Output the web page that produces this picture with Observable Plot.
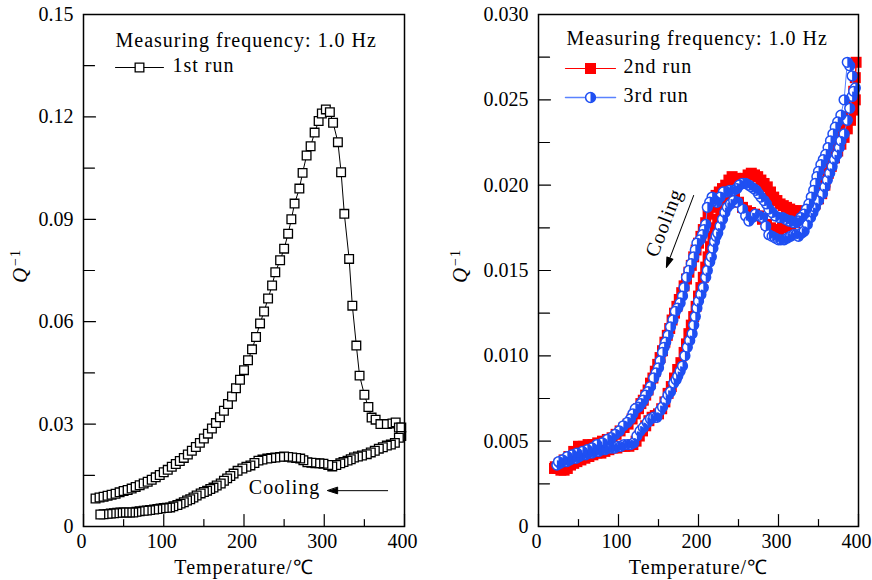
<!DOCTYPE html>
<html><head><meta charset="utf-8">
<script src="https://cdn.jsdelivr.net/npm/d3@7"></script>
<script src="https://cdn.jsdelivr.net/npm/@observablehq/plot@0.6"></script>
<style>
body{margin:0;background:#fff;}
#wrap{position:relative;width:872px;height:580px;overflow:hidden;background:#fff;}
#wrap svg{position:absolute;top:0;}
</style></head><body><div id="wrap"></div>
<script>
// ---------- data ----------
const xMajorTicks = [0, 100, 200, 300, 400];
const xMinorTicks = [50, 150, 250, 350];
const leftYMajorTicks = [0, 0.03, 0.06, 0.09, 0.12, 0.15];
const leftYMinorTicks = [0.015, 0.045, 0.075, 0.105, 0.135];
const rightYMajorTicks = [0, 0.005, 0.010, 0.015, 0.020, 0.025, 0.030];
const rightYMinorTicks = [0.0025, 0.0075, 0.0125, 0.0175, 0.0225, 0.0275];
const legendTitle = ["Measuring frequency: 1.0 Hz"];
const leftSeriesNames = ["1st run"];
const rightSeriesNames = ["2nd run", "3rd run"];
const xLabel = ["Temperature/℃"];
const annotationText = ["Cooling"];

// 1st run: [temperature °C, Q^-1]
const run1Heating = [[15,0.0082],[20,0.0085],[25,0.0087],[30,0.0090],[35,0.0093],[40,0.0096],[45,0.0100],[50,0.0104],[55,0.0107],[60,0.0111],[65,0.0116],[70,0.0121],[75,0.0126],[80,0.0131],[85,0.0137],[90,0.0144],[95,0.0151],[100,0.0159],[105,0.0166],[110,0.0175],[115,0.0183],[120,0.0192],[125,0.0201],[130,0.0211],[135,0.0222],[140,0.0233],[145,0.0245],[150,0.0258],[155,0.0272],[160,0.0287],[165,0.0303],[170,0.0320],[175,0.0339],[180,0.0359],[185,0.0381],[190,0.0405],[195,0.0430],[200,0.0458],[205,0.0487],[210,0.0519],[215,0.0555],[220,0.0595],[225,0.0630],[230,0.0668],[235,0.0706],[239,0.0745],[245,0.0780],[250,0.0814],[255,0.0858],[259,0.0900],[263,0.0946],[269,0.0990],[273,0.1036],[278,0.1087],[283,0.1114],[288,0.1154],[293,0.1188],[297,0.1210],[302,0.1222],[307,0.1214],[311,0.1183],[317,0.1126],[321,0.1038],[325,0.0916],[331,0.0784],[335,0.0647],[340,0.0530],[344,0.0442],[350,0.0386],[355,0.0350],[359,0.0319],[364,0.0313],[370,0.0300],[378,0.0300],[385,0.0302],[389,0.0305],[393,0.0290],[396,0.0290]];
const run1Cooling = [[396,0.0265],[393,0.0260],[388,0.0245],[383,0.0240],[378,0.0237],[373,0.0232],[368,0.0228],[363,0.0222],[358,0.0217],[353,0.0212],[347,0.0208],[342,0.0205],[337,0.0202],[333,0.0197],[329,0.0193],[324,0.0189],[320,0.0185],[315,0.0180],[310,0.0176],[305,0.0180],[299,0.0184],[294,0.0185],[289,0.0185],[284,0.0187],[279,0.0188],[274,0.0194],[270,0.0199],[265,0.0201],[260,0.0202],[255,0.0204],[250,0.0205],[245,0.0204],[239,0.0202],[234,0.0201],[229,0.0199],[223,0.0196],[218,0.0193],[213,0.0186],[208,0.0179],[203,0.0175],[198,0.0170],[192,0.0163],[187,0.0155],[183,0.0148],[179,0.0141],[175,0.0134],[171,0.0126],[166,0.0120],[162,0.0114],[158,0.0110],[154,0.0105],[150,0.0101],[146,0.0097],[141,0.0091],[137,0.0085],[133,0.0080],[129,0.0076],[125,0.0071],[121,0.0067],[117,0.0063],[112,0.0059],[108,0.0056],[104,0.0055],[100,0.0054],[96,0.0053],[92,0.0051],[88,0.0050],[83,0.0048],[79,0.0047],[75,0.0046],[70,0.0045],[66,0.0043],[62,0.0041],[58,0.0041],[54,0.0041],[50,0.0041],[46,0.0041],[42,0.0040],[38,0.0039],[34,0.0038],[30,0.0037],[25,0.0036],[21,0.0035]];

// 2nd run (red)
const run2Heating = [[20,0.0034],[24,0.0034],[28,0.0033],[32,0.0033],[36,0.0034],[40,0.0036],[44,0.0037],[48,0.0038],[53,0.0039],[58,0.0040],[63,0.0041],[68,0.0042],[73,0.0043],[78,0.0043],[83,0.0044],[88,0.0045],[93,0.0046],[98,0.0046],[103,0.0047],[108,0.0047],[113,0.0047],[118,0.0048],[122,0.0050],[126,0.0053],[130,0.0056],[134,0.0059],[138,0.0062],[142,0.0064],[146,0.0065],[150,0.0066],[154,0.0069],[158,0.0073],[162,0.0078],[166,0.0082],[170,0.0087],[174,0.0092],[178,0.0096],[182,0.0102],[185,0.0107],[188,0.0113],[191,0.0118],[194,0.0123],[197,0.0129],[200,0.0135],[203,0.0140],[206,0.0146],[209,0.0152],[212,0.0158],[215,0.0164],[218,0.0170],[221,0.0175],[224,0.0180],[228,0.0185],[232,0.0190],[236,0.0194],[240,0.0196],[245,0.0194],[250,0.0190],[255,0.0187],[260,0.0185],[265,0.0184],[270,0.0183],[275,0.0182],[280,0.0180],[285,0.0177],[290,0.0175],[295,0.0174],[300,0.0174],[305,0.0175],[310,0.0176],[315,0.0177],[320,0.0178],[325,0.0180],[330,0.0181],[335,0.0184],[340,0.0187],[345,0.0190],[350,0.0194],[354,0.0198],[358,0.0202],[362,0.0207],[366,0.0211],[370,0.0216],[374,0.0220],[378,0.0224],[382,0.0228],[386,0.0233],[390,0.0238],[393,0.0244],[396,0.0250]];
const run2Cooling = [[397,0.0272],[396,0.0263],[394,0.0255],[390,0.0246],[386,0.0240],[382,0.0235],[378,0.0229],[374,0.0224],[370,0.0219],[366,0.0213],[362,0.0207],[358,0.0200],[354,0.0195],[350,0.0192],[346,0.0189],[342,0.0186],[338,0.0185],[334,0.0184],[330,0.0184],[326,0.0185],[322,0.0185],[318,0.0185],[314,0.0186],[310,0.0187],[306,0.0188],[302,0.0189],[298,0.0191],[294,0.0193],[290,0.0196],[286,0.0199],[282,0.0201],[278,0.0203],[274,0.0205],[270,0.0206],[266,0.0207],[262,0.0206],[258,0.0204],[254,0.0203],[250,0.0203],[246,0.0204],[242,0.0205],[238,0.0203],[234,0.0200],[230,0.0198],[226,0.0196],[222,0.0194],[218,0.0191],[215,0.0187],[212,0.0183],[209,0.0178],[206,0.0174],[203,0.0170],[200,0.0166],[197,0.0162],[194,0.0158],[191,0.0153],[188,0.0149],[185,0.0145],[182,0.0141],[179,0.0137],[176,0.0133],[173,0.0129],[170,0.0125],[167,0.0121],[164,0.0116],[161,0.0112],[158,0.0108],[155,0.0103],[152,0.0099],[149,0.0095],[146,0.0091],[143,0.0087],[140,0.0084],[137,0.0080],[134,0.0077],[131,0.0074],[128,0.0072],[125,0.0069],[121,0.0066],[117,0.0063],[112,0.0060],[107,0.0058],[102,0.0056],[97,0.0054],[92,0.0052],[86,0.0051],[80,0.0050],[74,0.0049],[68,0.0048],[62,0.0048],[56,0.0047],[50,0.0047],[44,0.0044],[38,0.0041],[32,0.0039],[26,0.0037],[21,0.0035]];

// 3rd run (blue)
const run3Heating = [[23,0.0036],[27,0.0037],[31,0.0038],[35,0.0038],[39,0.0039],[43,0.0040],[47,0.0040],[51,0.0041],[55,0.0042],[59,0.0042],[63,0.0043],[67,0.0043],[71,0.0044],[75,0.0044],[79,0.0045],[83,0.0045],[87,0.0046],[91,0.0046],[95,0.0046],[99,0.0047],[103,0.0047],[107,0.0048],[111,0.0048],[115,0.0048],[119,0.0049],[123,0.0053],[127,0.0056],[131,0.0058],[136,0.0061],[140,0.0063],[144,0.0064],[148,0.0064],[152,0.0068],[155,0.0070],[159,0.0074],[162,0.0077],[165,0.0079],[169,0.0084],[172,0.0086],[174,0.0088],[177,0.0091],[180,0.0094],[183,0.0100],[186,0.0105],[189,0.0109],[192,0.0113],[194,0.0118],[196,0.0123],[198,0.0128],[200,0.0132],[203,0.0136],[206,0.0140],[209,0.0146],[211,0.0150],[214,0.0155],[216,0.0158],[218,0.0163],[220,0.0167],[222,0.0170],[224,0.0172],[227,0.0176],[230,0.0180],[233,0.0184],[236,0.0187],[240,0.0189],[244,0.0191],[249,0.0190],[255,0.0186],[259,0.0182],[263,0.0179],[267,0.0181],[271,0.0183],[276,0.0182],[280,0.0181],[284,0.0176],[288,0.0171],[292,0.0170],[296,0.0169],[300,0.0168],[303,0.0168],[307,0.0168],[311,0.0169],[315,0.0170],[319,0.0171],[322,0.0171],[325,0.0170],[329,0.0172],[332,0.0173],[336,0.0177],[340,0.0181],[343,0.0184],[346,0.0187],[350,0.0191],[355,0.0195],[358,0.0199],[361,0.0203],[364,0.0207],[367,0.0211],[370,0.0215],[373,0.0218],[376,0.0222],[378,0.0226],[382,0.0230],[386,0.0238],[389,0.0245],[392,0.0252],[396,0.0257]];
const run3Cooling = [[394,0.0255],[392,0.0264],[389,0.0270],[386,0.0272],[382,0.0250],[378,0.0241],[374,0.0237],[371,0.0234],[368,0.0230],[365,0.0226],[362,0.0222],[359,0.0218],[356,0.0215],[353,0.0212],[350,0.0208],[348,0.0205],[346,0.0201],[344,0.0197],[341,0.0193],[338,0.0189],[335,0.0186],[332,0.0183],[328,0.0181],[325,0.0179],[322,0.0178],[319,0.0178],[316,0.0179],[313,0.0179],[309,0.0180],[305,0.0181],[301,0.0181],[296,0.0182],[292,0.0184],[288,0.0186],[285,0.0189],[282,0.0191],[278,0.0193],[275,0.0195],[272,0.0197],[269,0.0198],[266,0.0199],[263,0.0200],[259,0.0201],[255,0.0201],[251,0.0200],[248,0.0198],[244,0.0197],[239,0.0197],[235,0.0196],[231,0.0196],[227,0.0193],[223,0.0190],[220,0.0191],[217,0.0193],[214,0.0190],[211,0.0187],[209,0.0177],[207,0.0174],[205,0.0171],[202,0.0168],[198,0.0166],[196,0.0162],[194,0.0158],[191,0.0154],[188,0.0150],[185,0.0146],[182,0.0140],[180,0.0135],[177,0.0131],[174,0.0128],[171,0.0126],[168,0.0121],[165,0.0117],[162,0.0112],[159,0.0108],[157,0.0105],[155,0.0102],[152,0.0097],[150,0.0093],[147,0.0090],[144,0.0087],[140,0.0082],[137,0.0079],[134,0.0077],[131,0.0074],[128,0.0072],[125,0.0070],[121,0.0069],[118,0.0066],[115,0.0063],[111,0.0061],[106,0.0059],[101,0.0056],[96,0.0054],[91,0.0052],[86,0.0051],[80,0.0049],[73,0.0048],[67,0.0046],[61,0.0045],[55,0.0044],[48,0.0043],[42,0.0042],[36,0.0041],[30,0.0039],[25,0.0038]];

// annotation anchors in data units [T, Q]
const leftCoolingText = [206, 0.0094];
const leftCoolingArrow = [379, 0.0105];
const rightCoolingText = [157, 0.0178];
const rightCoolingArrow = [194, 0.0194];

// ---------- helpers ----------
const toRows = (...parts) => parts.flat().map(([T, Q]) => ({T, Q}));
const run1 = toRows(run1Heating, run1Cooling);
const run2 = toRows(run2Heating, run2Cooling);
const run3 = toRows(run3Heating, run3Cooling);

const FONT = "'Liberation Serif','Times New Roman',serif";
const RED = "#ff0000", BLUE = "#1f4ff2", BLUE_LINE = "#5a82ff";
const tickShape = {draw(ctx, l) { ctx.moveTo(0, 0); ctx.lineTo(0, -l); }};
const arrowShape = {draw(ctx, l) {
  ctx.moveTo(0, 0); ctx.lineTo(0, -l + 6);
  ctx.moveTo(0, -l); ctx.lineTo(-3.2, -l + 10); ctx.lineTo(3.2, -l + 10); ctx.closePath();
}};
const rightHalf = {draw(ctx, size) {
  const r = Math.sqrt(size / Math.PI);
  ctx.moveTo(0, -r); ctx.arc(0, 0, r, -Math.PI / 2, Math.PI / 2); ctx.closePath();
}};

function tickMarks(yMajor, yMinor) {
  const o = {shape: tickShape, anchor: "start", stroke: "black", strokeWidth: 1.2};
  return [
    Plot.vector(xMajorTicks, {...o, x: d => d, frameAnchor: "bottom", rotate: 0, length: 12}),
    Plot.vector(xMinorTicks, {...o, x: d => d, frameAnchor: "bottom", rotate: 0, length: 7}),
    Plot.vector(yMajor, {...o, y: d => d, frameAnchor: "left", rotate: 90, length: 12}),
    Plot.vector(yMinor, {...o, y: d => d, frameAnchor: "left", rotate: 90, length: 11})
  ];
}

const common = {
  width: 436, height: 580, marginTop: 14, marginBottom: 54,
  x: {domain: [0, 400]},
  style: {fontFamily: FONT, fontSize: "20px", color: "black", background: "white", letterSpacing: "1px"}
};

function addYLabel(svg, x, y) {
  const t = d3.select(svg).append("text")
    .attr("transform", `translate(${x},${y}) rotate(-90)`)
    .attr("text-anchor", "middle").attr("font-family", FONT).attr("font-size", 21).attr("fill", "black");
  t.append("tspan").attr("font-style", "italic").text("Q");
  t.append("tspan").attr("dy", "-0.5em").attr("font-size", 14).attr("dx", "1").text("−1");
}
function tidyTicks(svg) {
  d3.select(svg).selectAll('g[aria-label$="tick label"]').style("letter-spacing", "0px");
}

// ---------- left panel ----------
const left = Plot.plot({
  ...common, marginLeft: 83, marginRight: 32,
  y: {domain: [0, 0.15]},
  marks: [
    Plot.axisX({ticks: xMajorTicks, tickSize: 0, tickPadding: 7, dx: -2, label: null, tickFormat: d => String(d)}),
    Plot.axisY({ticks: leftYMajorTicks, tickSize: 0, tickPadding: 10, label: null, tickFormat: d => d === 0 ? "0" : d.toFixed(2)}),
    ...tickMarks(leftYMajorTicks, leftYMinorTicks),
    Plot.line(run1, {x: "T", y: "Q", stroke: "black", strokeWidth: 1}),
    Plot.dot(run1, {x: "T", y: "Q", symbol: "square", r: 4.9, fill: "white", stroke: "black", strokeWidth: 1.3}),
    Plot.text(annotationText, {x: () => leftCoolingText[0], y: () => leftCoolingText[1], text: d => d, textAnchor: "start", lineAnchor: "bottom"}),
    Plot.vector([leftCoolingArrow], {x: d => d[0], y: d => d[1], rotate: -90, length: 60, anchor: "start", shape: arrowShape, stroke: "black", fill: "black", strokeWidth: 1}),
    // legend
    Plot.text(legendTitle, {frameAnchor: "top-left", dx: 32, dy: 32, text: d => d, textAnchor: "start", lineAnchor: "bottom"}),
    Plot.vector(leftSeriesNames, {frameAnchor: "top-left", dx: 32, dy: 53, rotate: 90, length: 48, anchor: "start", shape: tickShape, stroke: "black", strokeWidth: 1}),
    Plot.dot(leftSeriesNames, {frameAnchor: "top-left", dx: 56, dy: 53, symbol: "square", r: 4.9, fill: "white", stroke: "black", strokeWidth: 1.3}),
    Plot.text(leftSeriesNames, {frameAnchor: "top-left", dx: 89, dy: 57, text: d => d, textAnchor: "start", lineAnchor: "bottom"}),
    Plot.text(xLabel, {frameAnchor: "bottom", dy: 47, text: d => d, lineAnchor: "bottom"}),
    Plot.frame({stroke: "black", strokeWidth: 1.5})
  ]
});
left.style.left = "0px";
tidyTicks(left);
addYLabel(left, 27, 266);

// ---------- right panel ----------
const right = Plot.plot({
  ...common, marginLeft: 102, marginRight: 14,
  y: {domain: [0, 0.03]},
  marks: [
    Plot.axisX({ticks: xMajorTicks, tickSize: 0, tickPadding: 7, dx: -2, label: null, tickFormat: d => String(d)}),
    Plot.axisY({ticks: rightYMajorTicks, tickSize: 0, tickPadding: 10, label: null, tickFormat: d => d === 0 ? "0" : d.toFixed(3)}),
    ...tickMarks(rightYMajorTicks, rightYMinorTicks),
    Plot.line(run2, {x: "T", y: "Q", stroke: RED, strokeWidth: 1}),
    Plot.dot(run2, {x: "T", y: "Q", symbol: "square", r: 6.2, fill: RED, stroke: "none"}),
    Plot.line(run3, {x: "T", y: "Q", stroke: BLUE_LINE, strokeWidth: 1}),
    Plot.dot(run3, {x: "T", y: "Q", symbol: "circle", r: 4.9, fill: "white", stroke: BLUE, strokeWidth: 1.5}),
    Plot.dot(run3, {x: "T", y: "Q", symbol: rightHalf, r: 4.9, fill: BLUE, stroke: "none"}),
    Plot.text(annotationText, {x: () => rightCoolingText[0], y: () => rightCoolingText[1], text: d => d, rotate: -69, textAnchor: "middle", lineAnchor: "middle"}),
    Plot.vector([rightCoolingArrow], {x: d => d[0], y: d => d[1], rotate: 200.8, length: 77, anchor: "start", shape: arrowShape, stroke: "black", fill: "black", strokeWidth: 1}),
    // legend
    Plot.text(legendTitle, {frameAnchor: "top-left", dx: 28, dy: 30, text: d => d, textAnchor: "start", lineAnchor: "bottom"}),
    Plot.vector([rightSeriesNames[0]], {frameAnchor: "top-left", dx: 27, dy: 54, rotate: 90, length: 50, anchor: "start", shape: tickShape, stroke: RED, strokeWidth: 1.2}),
    Plot.dot([rightSeriesNames[0]], {frameAnchor: "top-left", dx: 52, dy: 54, symbol: "square", r: 6.2, fill: RED}),
    Plot.text([rightSeriesNames[0]], {frameAnchor: "top-left", dx: 85, dy: 58, text: d => d, textAnchor: "start", lineAnchor: "bottom"}),
    Plot.vector([rightSeriesNames[1]], {frameAnchor: "top-left", dx: 27, dy: 83, rotate: 90, length: 50, anchor: "start", shape: tickShape, stroke: BLUE_LINE, strokeWidth: 1.5}),
    Plot.dot([rightSeriesNames[1]], {frameAnchor: "top-left", dx: 52, dy: 83, symbol: "circle", r: 4.9, fill: "white", stroke: BLUE, strokeWidth: 1.5}),
    Plot.dot([rightSeriesNames[1]], {frameAnchor: "top-left", dx: 52, dy: 83, symbol: rightHalf, r: 4.9, fill: BLUE}),
    Plot.text([rightSeriesNames[1]], {frameAnchor: "top-left", dx: 85, dy: 87, text: d => d, textAnchor: "start", lineAnchor: "bottom"}),
    Plot.text(xLabel, {frameAnchor: "bottom", dy: 47, text: d => d, lineAnchor: "bottom"}),
    Plot.frame({stroke: "black", strokeWidth: 1.5})
  ]
});
right.style.left = "436px";
tidyTicks(right);
addYLabel(right, 31, 266);

document.getElementById("wrap").append(left, right);
</script></body></html>
